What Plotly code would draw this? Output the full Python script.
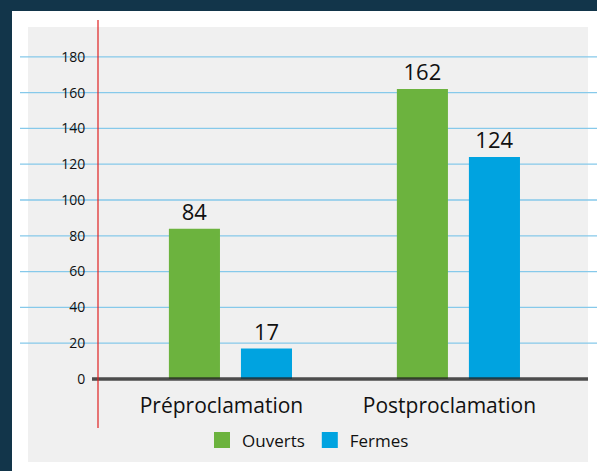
import plotly.graph_objects as go

categories = ["Préproclamation", "Postproclamation"]
ouverts = [84, 162]
fermes = [17, 124]
series_names = ["Ouverts", "Fermes"]
y_ticks = [0, 20, 40, 60, 80, 100, 120, 140, 160, 180]

W, H = 597, 471
L, R, T, B = 98, 10, 21, 88  # plot area px: x 98..587, y 21..383
PW = W - L - R
PH = H - T - B

GREEN = "#6cb33e"
BLUE = "#00a3e0"
FONT = "Open Sans"


def px(xp):
    return (xp - L) / PW


def py(yp):
    return (H - B - yp) / PH


fig = go.Figure()
fig.add_trace(go.Bar(x=categories, y=ouverts, name=series_names[0],
                     marker=dict(color=GREEN, line=dict(width=0)),
                     width=0.224, offset=-0.27,
                     text=[str(v) for v in ouverts], textposition="outside",
                     textfont=dict(size=22, color="#111", family=FONT),
                     cliponaxis=False, showlegend=False))
fig.add_trace(go.Bar(x=categories, y=fermes, name=series_names[1],
                     marker=dict(color=BLUE, line=dict(width=0)),
                     width=0.224, offset=0.046,
                     text=[str(v) for v in fermes], textposition="outside",
                     textfont=dict(size=22, color="#111", family=FONT),
                     cliponaxis=False, showlegend=False))
# legend entries with larger square swatches
for nm, col in zip(series_names, [GREEN, BLUE]):
    fig.add_trace(go.Scatter(x=[None], y=[None], mode="markers", name=nm,
                             marker=dict(symbol="square", size=16, color=col)))

shapes = [
    # white frame
    dict(type="rect", xref="paper", yref="paper",
         x0=px(12), x1=px(W + 5), y0=py(H + 5), y1=py(11),
         fillcolor="#ffffff", line=dict(width=0), layer="below"),
    # gray panel
    dict(type="rect", xref="paper", yref="paper",
         x0=px(28), x1=px(588), y0=py(462), y1=py(27),
         fillcolor="#f0f0f0", line=dict(width=0), layer="below"),
]
for t in y_ticks[1:]:
    shapes.append(dict(type="line", xref="paper", yref="y",
                       x0=px(20), x1=px(W), y0=t, y1=t,
                       line=dict(color="#86c9ea", width=1.3), layer="below"))
# zero baseline (smudgy dark line)
shapes.append(dict(type="line", xref="paper", yref="y",
                   x0=px(92), x1=px(588), y0=0, y1=0,
                   line=dict(color="rgba(35,35,35,0.8)", width=3.5), layer="above"))
# red margin line
shapes.append(dict(type="line", xref="paper", yref="paper",
                   x0=0, x1=0, y0=py(428), y1=py(20),
                   line=dict(color="#e02020", width=1.2), layer="above"))

fig.update_layout(
    width=W, height=H,
    margin=dict(l=L, r=R, t=T, b=B),
    paper_bgcolor="#12354a",
    plot_bgcolor="rgba(0,0,0,0)",
    barmode="overlay",
    shapes=shapes,
    font=dict(family=FONT, color="#111"),
    showlegend=True,
    legend=dict(orientation="h", x=px(202), xanchor="left",
                y=py(440.5), yanchor="middle",
                font=dict(size=17, family=FONT, color="#111"),
                bgcolor="rgba(0,0,0,0)", itemwidth=30, tracegroupgap=0),
    xaxis=dict(range=[-0.581, 1.564], showgrid=False, zeroline=False,
               showline=False, ticks="outside", ticklen=4, tickcolor="rgba(0,0,0,0)",
               tickfont=dict(size=21, family=FONT, color="#111"),
               ticklabelshift=-9, fixedrange=True),
    yaxis=dict(range=[-2.24, 200], tickvals=y_ticks, showgrid=False, zeroline=False,
               showline=False, ticks="outside", ticklen=9, tickcolor="rgba(0,0,0,0)",
               tickfont=dict(size=14, family=FONT, color="#111"), fixedrange=True),
)

fig.write_html("out.html", config={"displayModeBar": False},
               post_script="document.body.style.margin='0px';")
